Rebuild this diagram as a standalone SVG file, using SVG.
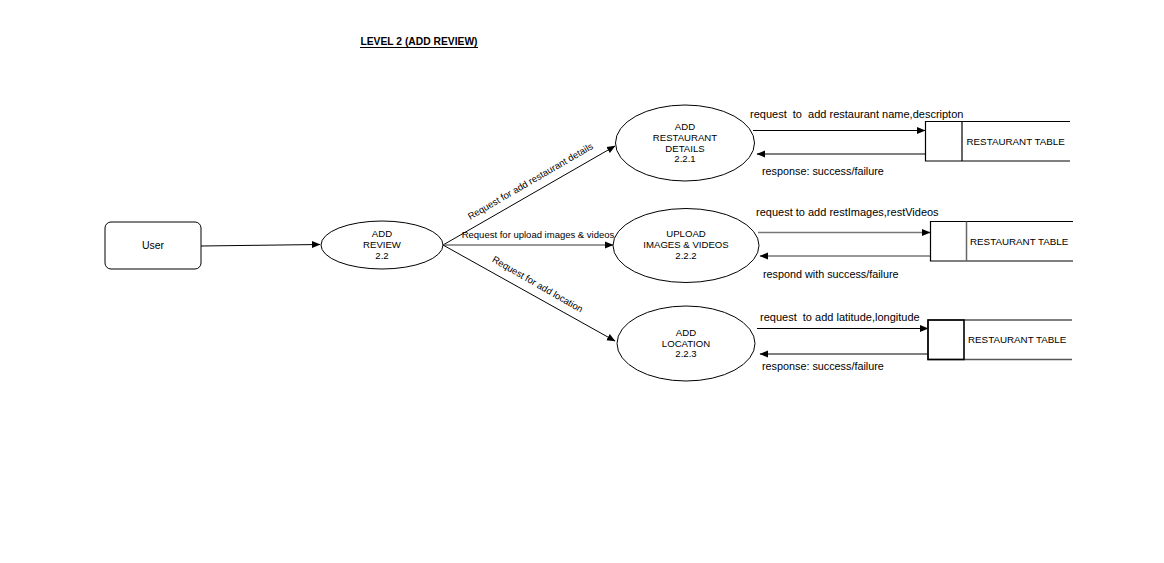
<svg xmlns="http://www.w3.org/2000/svg" width="1164" height="563" viewBox="0 0 1164 563">
<defs>
<marker id="ah" markerWidth="9" markerHeight="8" refX="8" refY="4" orient="auto" markerUnits="userSpaceOnUse">
<path d="M0,0.5 L8.5,4 L0,7.5 Z" fill="#000"/>
</marker>
</defs>
<style>
text{font-family:"Liberation Sans",Arial,sans-serif;fill:#000;white-space:pre}
.n{font-size:9.6px;text-anchor:middle}
.l{font-size:10.8px}
.r{font-size:11px}
.lab{font-size:9.5px;text-anchor:middle}
.s{font-size:9.8px}
.shape{fill:#fff;stroke:#000;stroke-width:1}
.c{fill:none;stroke:#000;stroke-width:1;marker-end:url(#ah)}
.g{stroke:#777;stroke-width:1.5}
.st{fill:none;stroke:#000;stroke-width:1.2}
</style>
<rect width="1164" height="563" fill="#fff"/>
<g id="title">
<text x="419" y="45" style="font-size:10.3px;font-weight:bold;text-anchor:middle">LEVEL 2 (ADD REVIEW)</text>
<line x1="360" y1="47.5" x2="478" y2="47.5" stroke="#000" stroke-width="1"/>
</g>
<g id="connectors">
<path class="c" d="M201,246 L320,244.5"/>
<path class="c" d="M443,245 L615,146"/>
<path class="c g" d="M443,245 L613,245"/>
<path class="c" d="M443,245 L615,341"/>
<text class="lab" transform="translate(532,184) rotate(-30.2)">Request for add restaurant details</text>
<text class="lab" x="538" y="238">Request for upload images &amp; videos</text>
<text class="lab" transform="translate(536,287) rotate(30)">Request for add location</text>
<path class="c" d="M753,130.5 L925,130.5"/>
<path class="c" d="M925,154 L757,154"/>
<text class="r" x="750" y="118" xml:space="preserve">request  to  add restaurant name,descripton</text>
<text class="l" x="762" y="175">response: success/failure</text>
<path class="c g" d="M758,232.5 L930,232.5"/>
<path class="c g" d="M930,256 L760,256"/>
<text class="r" x="756" y="215.5">request to add restImages,restVideos</text>
<text class="l" x="763" y="278">respond with success/failure</text>
<path class="c" d="M757,328.5 L928,328.5"/>
<path class="c" d="M928,354 L760,354"/>
<text class="r" x="760" y="320.5" xml:space="preserve">request  to add latitude,longitude</text>
<text class="l" x="762" y="370">response: success/failure</text>
</g>
<g id="user">
<rect class="shape" x="105" y="222" width="96" height="47" rx="6"/>
<text class="n" x="153" y="248.5" style="font-size:10.5px">User</text>
</g>
<g id="add-review">
<ellipse class="shape" cx="382" cy="245" rx="61" ry="24"/>
<text class="n" x="382" y="237">ADD</text>
<text class="n" x="382" y="248">REVIEW</text>
<text class="n" x="382" y="259">2.2</text>
</g>
<g id="add-restaurant-details">
<ellipse class="shape" cx="685" cy="143" rx="69.5" ry="38"/>
<text class="n" x="685" y="130">ADD</text>
<text class="n" x="685" y="141">RESTAURANT</text>
<text class="n" x="685" y="151.5">DETAILS</text>
<text class="n" x="685" y="162">2.2.1</text>
</g>
<g id="upload-images-videos">
<ellipse class="shape" cx="686" cy="245.5" rx="73" ry="37"/>
<text class="n" x="686" y="236.5">UPLOAD</text>
<text class="n" x="686" y="247.5">IMAGES &amp; VIDEOS</text>
<text class="n" x="686" y="258.5">2.2.2</text>
</g>
<g id="add-location">
<ellipse class="shape" cx="686" cy="343.5" rx="69" ry="37.5"/>
<text class="n" x="686" y="335.5">ADD</text>
<text class="n" x="686" y="346.5">LOCATION</text>
<text class="n" x="686" y="357">2.2.3</text>
</g>
<g id="store-1">
<path class="st" d="M1070,121.5 L925.5,121.5 L925.5,161 L1070,161 M962,121.5 L962,161"/>
<text class="s" x="966.5" y="145">RESTAURANT TABLE</text>
</g>
<g id="store-2">
<path class="st" d="M1073,221.5 L930.5,221.5 L930.5,261 L1073,261"/>
<path d="M966.5,221.5 L966.5,261" stroke="#666" stroke-width="1.5"/>
<text class="s" x="970" y="245">RESTAURANT TABLE</text>
</g>
<g id="store-3">
<path d="M1072,320 L928,320 L928,359.5 L1072,359.5" fill="none" stroke="#555" stroke-width="1.3"/>
<path d="M928,320 L964,320 L964,359.5 L928,359.5 Z" fill="none" stroke="#000" stroke-width="1.6"/>
<text class="s" x="968" y="342.5">RESTAURANT TABLE</text>
</g>
</svg>
